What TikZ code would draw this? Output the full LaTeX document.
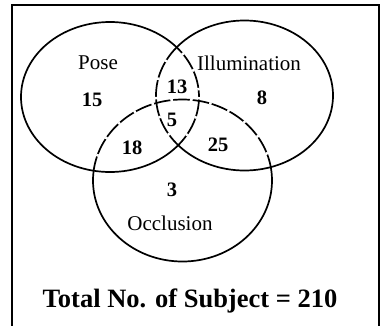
\documentclass[tikz,border=0pt]{standalone}
\usepackage{fontspec}
\setmainfont{Liberation Serif}
\newcommand{\setname}{\fontsize{21}{24}\selectfont}
\newcommand{\setnum}{\fontsize{20.5}{24}\selectfont\bfseries}

\begin{document}
\begin{tikzpicture}[x=1pt,y=-1pt,line width=1.7pt,
  gap/.style={white,line width=2.4pt,dash pattern=on 2.5pt off 17pt}]
\useasboundingbox (0,0) rectangle (380,325);
\draw[line width=2pt] (12,330)--(12,5)--(378.5,5)--(378.5,330);
\coordinate (cpose) at (110,97);
\coordinate (cillu) at (244.5,95.5);
\coordinate (coccl) at (182.5,180.5);
\draw (cpose) ellipse [x radius=89,y radius=75];
\draw (cillu) ellipse [x radius=88.5,y radius=75];
\draw (coccl) ellipse [x radius=89.5,y radius=81];
\begin{scope}
\clip (cillu) ellipse [x radius=88.5,y radius=75];
\draw[gap] (cpose) ellipse [x radius=89,y radius=75];
\draw[gap] (coccl) ellipse [x radius=89.5,y radius=81];
\end{scope}
\begin{scope}
\clip (cpose) ellipse [x radius=89,y radius=75];
\draw[gap] (cillu) ellipse [x radius=88.5,y radius=75];
\draw[gap] (coccl) ellipse [x radius=89.5,y radius=81];
\end{scope}
\node (pose) at (98,63) {\setname Pose};
\node (illu) at (249,63) {\setname Illumination};
\node (occl) at (170,223) {\setname Occlusion};
\node (n15) at (92,100) {\setnum 15};
\node (n13) at (177,87) {\setnum 13};
\node (n8) at (262,98) {\setnum 8};
\node (n5) at (172,120) {\setnum 5};
\node (n18) at (132,148) {\setnum 18};
\node (n25) at (218,145) {\setnum 25};
\node (n3) at (172,190) {\setnum 3};
\node[anchor=base] (total) at (190,307) {\fontsize{26.5}{30}\selectfont\bfseries Total No. of Subject = 210};
\end{tikzpicture}
\end{document}
